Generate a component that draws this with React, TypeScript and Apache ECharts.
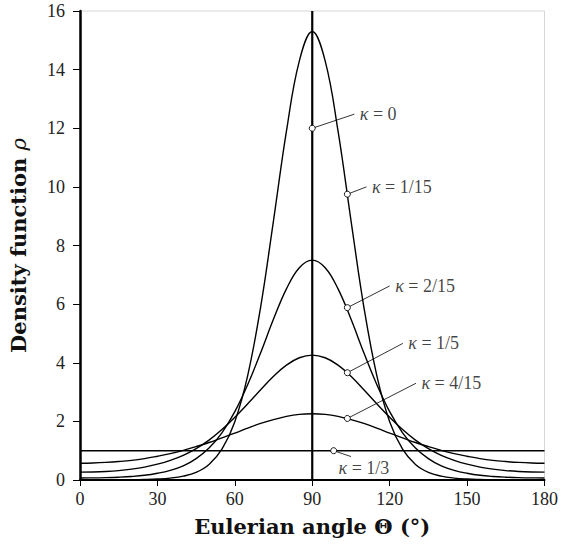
import React, { useEffect, useRef } from "react";
import * as echarts from "echarts";

const thetas = [0, 5, 10, 15, 20, 25, 30, 35, 40, 45, 50, 55, 60, 65, 70, 75, 80, 85, 90, 95, 100, 105, 110, 115, 120, 125, 130, 135, 140, 145, 150, 155, 160, 165, 170, 175, 180];

const rhoK1_15 = [0.004, 0.005, 0.006, 0.008, 0.011, 0.019, 0.034, 0.065, 0.13, 0.26, 0.53, 1.05, 1.99, 3.57, 5.9, 8.86, 11.9, 14.3, 15.3, 14.3, 11.9, 8.86, 5.9, 3.57, 1.99, 1.05, 0.53, 0.26, 0.13, 0.065, 0.034, 0.019, 0.011, 0.008, 0.006, 0.005, 0.004];
const rhoK2_15 = [0.07, 0.073, 0.081, 0.096, 0.12, 0.16, 0.23, 0.33, 0.48, 0.73, 1.09, 1.61, 2.33, 3.26, 4.34, 5.49, 6.52, 7.24, 7.5, 7.24, 6.52, 5.49, 4.34, 3.26, 2.33, 1.61, 1.09, 0.73, 0.48, 0.33, 0.23, 0.16, 0.12, 0.096, 0.081, 0.073, 0.07];
const rhoK1_5 = [0.27, 0.275, 0.29, 0.32, 0.37, 0.44, 0.54, 0.67, 0.84, 1.07, 1.36, 1.72, 2.14, 2.6, 3.08, 3.54, 3.92, 4.17, 4.26, 4.17, 3.92, 3.54, 3.08, 2.6, 2.14, 1.72, 1.36, 1.07, 0.84, 0.67, 0.54, 0.44, 0.37, 0.32, 0.29, 0.275, 0.27];
const rhoK4_15 = [0.57, 0.58, 0.6, 0.63, 0.67, 0.73, 0.81, 0.9, 1.01, 1.14, 1.28, 1.44, 1.6, 1.77, 1.93, 2.06, 2.17, 2.24, 2.26, 2.24, 2.17, 2.06, 1.93, 1.77, 1.6, 1.44, 1.28, 1.14, 1.01, 0.9, 0.81, 0.73, 0.67, 0.63, 0.6, 0.58, 0.57];
const rhoK1_3 = [1, 1, 1, 1, 1, 1, 1, 1, 1, 1, 1, 1, 1, 1, 1, 1, 1, 1, 1, 1, 1, 1, 1, 1, 1, 1, 1, 1, 1, 1, 1, 1, 1, 1, 1, 1, 1];
// kappa = 0: Dirac-like spike at 90°
const spikeK0 = [[90, 0], [90, 16]];

const annotLabels = ["0", "1/15", "2/15", "1/5", "4/15", "1/3"];
const markerPts = [[90, 12], [103.6, 9.75], [103.6, 5.88], [103.6, 3.66], [103.6, 2.1], [98.3, 1.0]];
const leaderEnds = [[106.3, 12.48], [111, 10.0], [120, 6.62], [125.1, 4.66], [130.2, 3.3], [105, 0.8]];

const xTicks = { min: 0, max: 180, interval: 30 };
const yTicks = { min: 0, max: 16, interval: 2 };

const serif = "'Liberation Serif', 'Times New Roman', serif";

export default function App() {
  const ref = useRef<HTMLDivElement>(null);
  useEffect(() => {
    if (!ref.current) return;
    const chart = echarts.init(ref.current, undefined, { renderer: "svg" });
    const curve = (name: string, vals: number[]) => ({
      name,
      type: "line",
      data: thetas.map((t, i) => [t, vals[i]]),
      smooth: 0.4,
      showSymbol: false,
      lineStyle: { color: "#000", width: 1.4 },
      z: 3,
    });
    const leaders = markerPts.map((p, i) => ({
      type: "line",
      data: [p, leaderEnds[i]],
      showSymbol: false,
      lineStyle: { color: "#000", width: 0.8 },
      z: 4,
    }));
    const option: any = {
      animation: false,
      backgroundColor: "#fff",
      grid: { left: 79, right: 13, top: 11, bottom: 71, show: true, borderColor: "#d6d6d6", borderWidth: 1, backgroundColor: "transparent" },
      xAxis: {
        type: "value",
        ...xTicks,
        name: "Eulerian angle Θ (°)",
        nameLocation: "middle",
        nameGap: 36,
        nameTextStyle: { fontFamily: "DejaVu Serif", fontWeight: "bold", fontSize: 21, color: "#111" },
        axisLine: { show: true, onZero: false, lineStyle: { color: "#000", width: 2.2 } },
        axisTick: { show: true, inside: false, length: 6, lineStyle: { color: "#000", width: 1 } },
        splitLine: { show: false },
        axisLabel: { fontFamily: serif, fontSize: 18, color: "#222", margin: 10 },
      },
      yAxis: {
        type: "value",
        ...yTicks,
        name: "Density function {i|ρ}",
        nameLocation: "middle",
        nameGap: 51,
        nameRotate: 90,
        nameTextStyle: {
          fontFamily: "DejaVu Serif", fontWeight: "bold", fontSize: 21, color: "#111",
          rich: { i: { fontFamily: "DejaVu Serif", fontStyle: "italic", fontWeight: "normal", fontSize: 21, color: "#111" } },
        },
        axisLine: { show: true, onZero: false, lineStyle: { color: "#000", width: 2.5 } },
        axisTick: { show: true, inside: false, length: 7, lineStyle: { color: "#000", width: 1 } },
        splitLine: { show: false },
        axisLabel: { fontFamily: serif, fontSize: 18, color: "#222", margin: 15 },
      },
      series: [
        curve("κ=1/3", rhoK1_3),
        curve("κ=4/15", rhoK4_15),
        curve("κ=1/5", rhoK1_5),
        curve("κ=2/15", rhoK2_15),
        curve("κ=1/15", rhoK1_15),
        {
          name: "κ=0",
          type: "line",
          data: spikeK0,
          showSymbol: false,
          lineStyle: { color: "#000", width: 2.2 },
          z: 3,
        },
        ...leaders,
        {
          type: "scatter",
          data: markerPts,
          symbol: "circle",
          symbolSize: 6,
          itemStyle: { color: "#fff", borderColor: "#000", borderWidth: 0.9, opacity: 1 },
          z: 6,
        },
        {
          type: "scatter",
          data: leaderEnds.map((p, i) => ({
            value: p,
            label: i === 5
              ? { position: "bottom", distance: 2, offset: [13, 0] }
              : { position: "right", distance: 5 },
          })),
          symbolSize: 1,
          itemStyle: { color: "rgba(0,0,0,0)" },
          label: {
            show: true,
            formatter: (p: any) => "{k|κ} = " + annotLabels[p.dataIndex],
            fontFamily: serif,
            fontSize: 18,
            color: "#111",
            rich: { k: { fontFamily: serif, fontStyle: "italic", fontSize: 18, color: "#111" } },
          },
          z: 6,
        },
      ],
    };
    chart.setOption(option);
    return () => chart.dispose();
  }, []);
  return <div ref={ref} style={{ position: "absolute", left: 0, top: 0, width: 561, height: 551 }} />;
}
